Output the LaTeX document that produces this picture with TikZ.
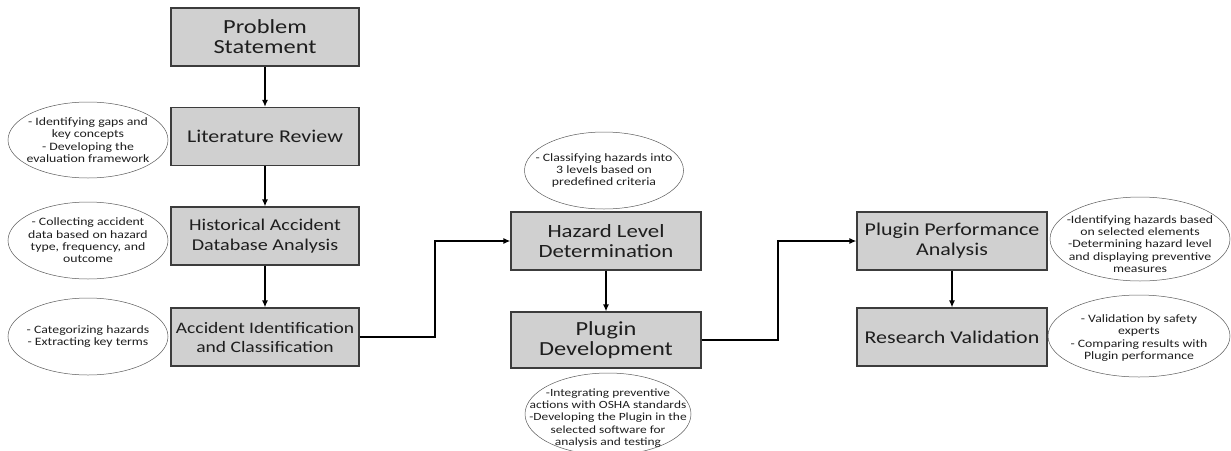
\documentclass[tikz,border=0pt]{standalone}
\usepackage{fontspec}
\setmainfont{Carlito}[FakeStretch=1.22]
\usetikzlibrary{arrows.meta,shapes.geometric}
\definecolor{boxfill}{RGB}{208,208,208}
\definecolor{boxline}{RGB}{60,60,60}
\definecolor{txt}{RGB}{30,30,30}
\definecolor{ell}{RGB}{90,90,90}
\newcommand{\fsz}[2]{\fontsize{#1}{#2}\selectfont}
\tikzset{
  stepbox/.style={draw=boxline, fill=boxfill, line width=1.1pt, minimum width=188pt, minimum height=58pt,
    align=center, inner sep=0pt, text=txt, font=\fsz{17.5}{20}},
  note/.style={ellipse, draw=ell, line width=0.5pt, inner sep=0pt},
  notetext/.style={align=center, inner sep=0pt, text=txt, font=\fsz{11.3}{12.3}},
  flow/.style={line width=1.5pt, black, -{Latex[length=7pt,width=6pt]}},
}
\begin{document}
\begin{tikzpicture}[x=1pt,y=-1pt]
\useasboundingbox (0,0) rectangle (1231,450);
\clip (0,0) rectangle (1231,450);

% left column
\node[stepbox, font=\fsz{20}{20}] (ps) at (265,37) {Problem\\Statement};
\node[stepbox, font=\fsz{18}{20}] (lr) at (265,136.5) {Literature Review};
\node[stepbox, font=\fsz{16.5}{20}] (ha) at (265,236) {Historical Accident\\Database Analysis};
\node[stepbox, font=\fsz{16}{19}] (ai) at (265,337) {Accident Identification\\and Classification};

% middle column
\node[stepbox, minimum width=190pt, font=\fsz{18.7}{20}] (hl) at (606,241) {Hazard Level\\Determination};
\node[stepbox, minimum width=190pt, minimum height=56pt, font=\fsz{20}{20}] (pd) at (606,340) {Plugin\\Development};

% right column
\node[stepbox, minimum width=190pt, font=\fsz{18}{20}] (pp) at (952,241) {Plugin Performance\\Analysis};
\node[stepbox, minimum width=190pt, font=\fsz{18}{20}] (rv) at (952,337) {Research Validation};

% notes
\node[note, minimum width=160pt, minimum height=76pt] (e1) at (88,140) {};
\node[notetext] (t1) at (e1.center)
  {- Identifying gaps and\\key concepts\\- Developing the\\evaluation framework};
\node[note, minimum width=160pt, minimum height=77pt] (e2) at (88,240.5) {};
\node[notetext] (t2) at (e2.center)
  {- Collecting accident\\data based on hazard\\type, frequency, and\\outcome};
\node[note, minimum width=160pt, minimum height=77pt] (e3) at (88,336.5) {};
\node[notetext] (t3) at (e3.center)
  {- Categorizing hazards\\- Extracting key terms};
\node[note, minimum width=159pt, minimum height=77pt] (e4) at (604,170.5) {};
\node[notetext] (t4) at (e4.center)
  {- Classifying hazards into\\3 levels based on\\predefined criteria};
\node[note, minimum width=166pt, minimum height=82pt] (e5) at (608,414) {};
\node[notetext, font=\fsz{11.0}{12.2}] (t5) at (608,418)
  {-Integrating preventive\\actions with OSHA standards\\-Developing the Plugin in the\\selected software for\\analysis and testing};
\node[note, minimum width=180pt, minimum height=84pt] (e6) at (1140,239) {};
\node[notetext] (t6) at (1140,244)
  {-Identifying hazards based\\on selected elements\\-Determining hazard level\\and displaying preventive\\measures};
\node[note, minimum width=182pt, minimum height=82pt] (e7) at (1139,336) {};
\node[notetext] (t7) at (1139,338)
  {- Validation by safety\\experts\\- Comparing results with\\Plugin performance};

% connectors
\draw[flow] (ps) -- (lr);
\draw[flow] (lr) -- (ha);
\draw[flow] (ha) -- (ai);
\draw[flow] (hl) -- (pd);
\draw[flow] (pp) -- (rv);

\coordinate (j1) at (435,290);
\coordinate (j2) at (778,290);
\draw[flow] (ai.east) -| (j1) |- (hl.west);
\draw[flow] (pd.east) -| (j2) |- (pp.west);
\end{tikzpicture}
\end{document}
